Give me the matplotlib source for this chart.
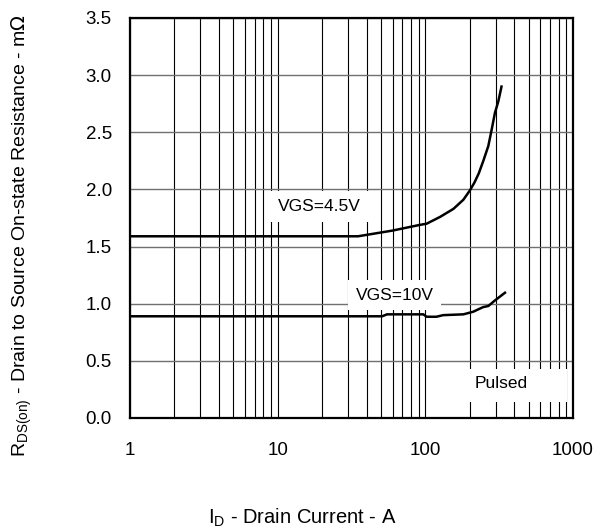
import matplotlib
matplotlib.use("Agg")
import matplotlib.pyplot as plt
from matplotlib.patches import Rectangle
from matplotlib.ticker import FixedLocator, NullFormatter, LogLocator

plt.rcParams['font.family'] = ['Liberation Sans', 'DejaVu Sans']

# VGS = 4.5 V curve (ID in A, RDS(on) in mOhm)
id_45 = [1, 10, 35, 60, 92, 102, 126, 155, 181, 200, 215, 230, 247, 267, 281, 296, 312, 328]
r_45 = [1.59, 1.59, 1.59, 1.64, 1.69, 1.70, 1.76, 1.83, 1.91, 1.99, 2.06, 2.14, 2.25, 2.38, 2.52, 2.67, 2.77, 2.90]

# VGS = 10 V curve
id_10 = [1, 10, 51, 55, 97, 102, 119, 132, 181, 211, 246, 267, 297, 346]
r_10 = [0.89, 0.89, 0.89, 0.907, 0.907, 0.886, 0.886, 0.90, 0.907, 0.93, 0.97, 0.98, 1.03, 1.096]

yticks = [0.0, 0.5, 1.0, 1.5, 2.0, 2.5, 3.0, 3.5]
xticks = [1, 10, 100, 1000]

fig = plt.figure(figsize=(6.12, 5.29), dpi=100)
ax = fig.add_axes([130/612, 1 - 418/529, 443/612, 400/529])

ax.plot(id_45, r_45, color='black', lw=1.8, zorder=3)
ax.plot(id_10, r_10, color='black', lw=1.8, zorder=3)

ax.set_xscale('log')
ax.set_xlim(1, 1000)
ax.set_ylim(0, 3.5)
ax.xaxis.set_major_locator(FixedLocator(xticks))
ax.set_xticklabels([str(v) for v in xticks])
ax.xaxis.set_minor_locator(LogLocator(base=10, subs=range(2, 10)))
ax.xaxis.set_minor_formatter(NullFormatter())
ax.set_yticks(yticks)
ax.set_yticklabels(['%.1f' % v for v in yticks])

ax.grid(True, which='both', axis='x', color='black', lw=0.8)
ax.grid(True, which='major', axis='y', color='#707070', lw=1.0)
ax.tick_params(which='both', length=0, labelsize=13.5)
ax.tick_params(axis='x', pad=17)
ax.tick_params(axis='y', pad=13)
for s in ax.spines.values():
    s.set_linewidth(1.6)

ax.text(19.3, 1.85, 'VGS=4.5V', fontsize=12.5, ha='center', va='center',
        bbox=dict(facecolor='white', edgecolor='none', pad=6), zorder=4)
ax.text(62, 1.076, 'VGS=10V', fontsize=12.5, ha='center', va='center',
        bbox=dict(facecolor='white', edgecolor='none', pad=5.5), zorder=4)
ax.add_patch(Rectangle((0.670, 0.04), 0.316, 0.0825, transform=ax.transAxes,
                       facecolor='white', edgecolor='none', zorder=2.5))
ax.text(324, 0.306, 'Pulsed', fontsize=12.5, ha='center', va='center', zorder=4)

fig.text(302/612, 1 - 518/529, r'I$_{\mathregular{D}}$ - Drain Current - A', fontsize=14.5, ha='center', va='center')
fig.text(22/612, 1 - 236/529, r'R$_{\mathregular{DS(on)}}$ - Drain to Source On-state Resistance - m$\Omega$',
         fontsize=14, ha='center', va='center', rotation=90)

fig.savefig('out.png', dpi=100)
